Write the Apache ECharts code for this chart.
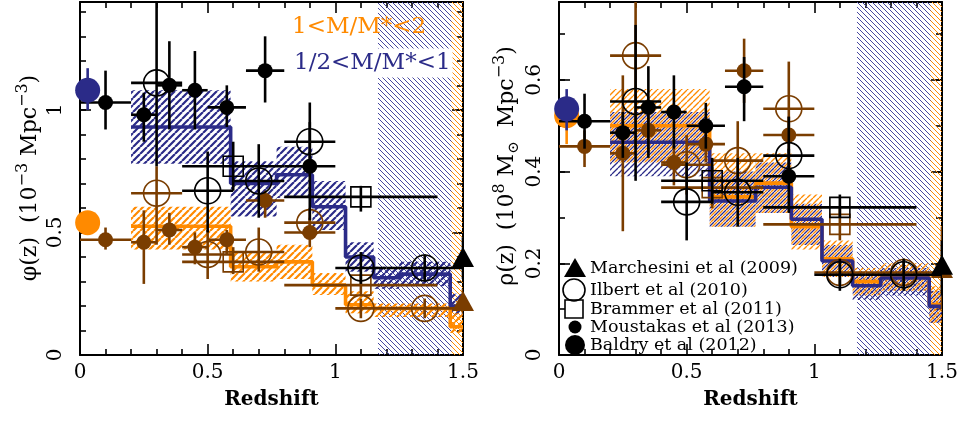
<!DOCTYPE html>
<html><head><meta charset="utf-8">
<script src="https://cdn.jsdelivr.net/npm/echarts@6/dist/echarts.min.js"></script>
<style>html,body{margin:0;padding:0;background:#fff}#c{width:962px;height:425px}</style>
</head><body><div id="c"></div>
<script>
// ---------------- DATA ----------------
// Moustakas et al (2013) bins
const mousZ   = [0.1, 0.25, 0.35, 0.45, 0.575, 0.725, 0.9];
const mousZlo = [0.0, 0.2, 0.3, 0.4, 0.5, 0.65, 0.8];
const mousZhi = [0.2, 0.3, 0.4, 0.5, 0.65, 0.8, 1.0];
// Ilbert et al (2010) bins
const ilbZ   = [0.3, 0.5, 0.7, 0.9, 1.1, 1.35];
const ilbZlo = [0.2, 0.4, 0.6, 0.8, 1.0, 1.2];
const ilbZhi = [0.4, 0.6, 0.8, 1.0, 1.2, 1.5];
// Brammer et al (2011) bins
const braZ   = [0.6, 1.1];
const braZlo = [0.4, 0.8];
const braZhi = [0.8, 1.4];
// Marchesini et al (2009), Baldry et al (2012)
const marZ = [1.5];
const balZ = [0.03];

// ---- phi(z), 1/2<M/M*<1 (black) and 1<M/M*<2 (brown)
const phiMousLow     = [1.03, 0.98, 1.10, 1.08, 1.01, 1.16, 0.77];
const phiMousLowLo   = [0.92, 0.87, 0.92, 0.92, 0.93, 1.03, 0.55];
const phiMousLowHi   = [1.16, 1.07, 1.28, 1.24, 1.10, 1.30, 1.03];
const phiMousHigh    = [0.47, 0.46, 0.51, 0.44, 0.47, 0.63, 0.50];
const phiMousHighLo  = [0.43, 0.29, 0.45, 0.37, 0.41, 0.56, 0.44];
const phiMousHighHi  = [0.52, 0.59, 0.58, 0.50, 0.51, 0.67, 0.56];
const phiIlbLow      = [1.11, 0.67, 0.71, 0.87, 0.355, 0.355];
const phiIlbLowLo    = [0.77, 0.50, 0.56, 0.80, 0.29, 0.30];
const phiIlbLowHi    = [1.60, 0.83, 0.86, 0.95, 0.42, 0.41];
const phiIlbHigh     = [0.66, 0.41, 0.42, 0.54, 0.19, 0.19];
const phiIlbHighLo   = [0.45, 0.31, 0.34, 0.48, 0.15, 0.15];
const phiIlbHighHi   = [0.77, 0.51, 0.52, 0.60, 0.23, 0.23];
const phiBraLow      = [0.77, 0.645];
const phiBraLowLo    = [0.67, 0.585];
const phiBraLowHi    = [0.87, 0.69];
const phiBraHigh     = [0.38, 0.285];
const phiBraHighLo   = [0.33, 0.24];
const phiBraHighHi   = [0.44, 0.33];
const phiMarLow = [0.40], phiMarLowLo = [0.31], phiMarLowHi = [0.48];
const phiMarHigh = [0.22], phiMarHighLo = [0.17], phiMarHighHi = [0.27];
const phiBalLow = [1.08], phiBalLowLo = [1.00], phiBalLowHi = [1.17];
const phiBalHigh = [0.54], phiBalHighLo = [0.51], phiBalHighHi = [0.57];

// ---- rho(z)
const rhoMousLow     = [0.51, 0.485, 0.54, 0.53, 0.50, 0.585, 0.39];
const rhoMousLowLo   = [0.45, 0.43, 0.43, 0.45, 0.45, 0.51, 0.31];
const rhoMousLowHi   = [0.57, 0.53, 0.63, 0.61, 0.55, 0.65, 0.45];
const rhoMousHigh    = [0.455, 0.44, 0.49, 0.42, 0.46, 0.62, 0.48];
const rhoMousHighLo  = [0.41, 0.27, 0.44, 0.37, 0.42, 0.55, 0.44];
const rhoMousHighHi  = [0.49, 0.61, 0.54, 0.47, 0.50, 0.69, 0.52];
const rhoIlbLow      = [0.553, 0.334, 0.355, 0.435, 0.175, 0.175];
const rhoIlbLowLo    = [0.38, 0.25, 0.28, 0.39, 0.14, 0.14];
const rhoIlbLowHi    = [0.72, 0.42, 0.43, 0.52, 0.21, 0.21];
const rhoIlbHigh     = [0.653, 0.415, 0.424, 0.537, 0.18, 0.18];
const rhoIlbHighLo   = [0.45, 0.35, 0.34, 0.48, 0.15, 0.15];
const rhoIlbHighHi   = [0.80, 0.48, 0.51, 0.64, 0.21, 0.21];
const rhoBraLow      = [0.38, 0.322];
const rhoBraLowLo    = [0.33, 0.30];
const rhoBraLowHi    = [0.43, 0.35];
const rhoBraHigh     = [0.365, 0.285];
const rhoBraHighLo   = [0.32, 0.25];
const rhoBraHighHi   = [0.41, 0.32];
const rhoMarLow = [0.197], rhoMarLowLo = [0.13], rhoMarLowHi = [0.25];
const rhoMarHigh = [0.19], rhoMarHighLo = [0.10], rhoMarHighHi = [0.28];
const rhoBalLow = [0.537], rhoBalLowLo = [0.49], rhoBalLowHi = [0.58];
const rhoBalHigh = [0.522], rhoBalHighLo = [0.46], rhoBalHighHi = [0.56];

// ---- model steps and uncertainty bands
const phiEdges      = [0.2, 0.59, 0.77, 0.91, 1.04, 1.15, 1.25, 1.45, 1.5];
const phiStepLow    = [0.93, 0.70, 0.735, 0.605, 0.40, 0.315, 0.33, 0.20];
const phiStepHigh   = [0.525, 0.36, 0.38, 0.285, 0.205, 0.19, 0.19, 0.115];
const phiBandLowLo  = [0.78, 0.565, 0.64, 0.51, 0.34, 0.27, 0.28, 0.16];
const phiBandLowHi  = [1.08, 0.79, 0.85, 0.71, 0.46, 0.36, 0.38, 0.25];
const phiBandHighLo = [0.43, 0.30, 0.31, 0.245, 0.17, 0.155, 0.155, 0.09];
const phiBandHighHi = [0.605, 0.42, 0.45, 0.335, 0.26, 0.21, 0.21, 0.17];

const rhoEdges      = [0.2, 0.59, 0.77, 0.91, 1.03, 1.15, 1.26, 1.45, 1.5];
const rhoStepLow    = [0.464, 0.336, 0.366, 0.296, 0.205, 0.151, 0.168, 0.106];
const rhoStepHigh   = [0.50, 0.345, 0.375, 0.28, 0.21, 0.16, 0.17, 0.11];
const rhoBandLowLo  = [0.39, 0.28, 0.31, 0.24, 0.17, 0.12, 0.13, 0.07];
const rhoBandLowHi  = [0.53, 0.40, 0.42, 0.33, 0.24, 0.18, 0.19, 0.14];
const rhoBandHighLo = [0.42, 0.28, 0.31, 0.23, 0.17, 0.13, 0.14, 0.07];
const rhoBandHighHi = [0.58, 0.44, 0.44, 0.35, 0.25, 0.19, 0.20, 0.15];

// incompleteness regions (redshift ranges)
const incompleteLowZ  = [1.167, 1.5];
const incompleteHighZ = [1.455, 1.5];

// axes
const xTicks = [0, 0.5, 1, 1.5];
const phiMax = 1.44, rhoMax = 0.77;

// ---------------- STYLE ----------------
const NAVY = '#2b2b88', ORANGE = '#ff8a00', BROWN = '#7a3d00', BLACK = '#000000';
const FONT = '"DejaVu Serif", "Liberation Serif", serif';

function hatch(color, size, lw, dir, off) {
  const c = document.createElement('canvas');
  c.width = size; c.height = size;
  const g = c.getContext('2d');
  g.strokeStyle = color; g.lineWidth = lw;
  g.beginPath();
  for (let k = -2; k <= 2; k++) {
    const o = k * size + (off || 0);
    if (dir === '/') { g.moveTo(o, size); g.lineTo(o + size, 0); }
    else { g.moveTo(o, 0); g.lineTo(o + size, size); }
  }
  g.stroke();
  return { image: c, repeat: 'repeat' };
}

const series = [];
function ax(g) { return { xAxisIndex: g * 2, yAxisIndex: g * 4 }; }

function rectSeries(g, x0s, x1s, y0s, y1s, fill, z) {
  return Object.assign({
    type: 'custom', z, silent: true, clip: true,
    encode: { x: 0, y: 2 },
    data: x0s.map((x, i) => [x, x1s[i], y0s[i], y1s[i]]),
    renderItem: (p, api) => {
      const a = api.coord([api.value(0), api.value(3)]);
      const b = api.coord([api.value(1), api.value(2)]);
      return { type: 'rect', shape: { x: a[0], y: a[1], width: b[0] - a[0], height: b[1] - a[1] }, style: { fill: fill } };
    }
  }, ax(g));
}
function stepSeries(g, edges, vals, color, z) {
  const data = vals.map((v, i) => [edges[i], v]);
  data.push([edges[edges.length - 1], vals[vals.length - 1]]);
  return Object.assign({
    type: 'line', step: 'end', symbol: 'none', z, silent: true, clip: true,
    data, lineStyle: { color, width: 3.6, cap: 'butt' }
  }, ax(g));
}
function errSeries(g, xs, xlo, xhi, ys, ylo, yhi, color, z) {
  return Object.assign({
    type: 'custom', z, silent: true, clip: true, encode: { x: 0, y: 1 },
    data: xs.map((x, i) => [x, ys[i], xlo[i], xhi[i], ylo[i], yhi[i]]),
    renderItem: (p, api) => {
      const x = api.value(0), y = api.value(1);
      const a = api.coord([api.value(2), y]), b = api.coord([api.value(3), y]);
      const c = api.coord([x, api.value(4)]), d = api.coord([x, api.value(5)]);
      return { type: 'group', children: [
        { type: 'line', shape: { x1: a[0], y1: a[1], x2: b[0], y2: b[1] }, style: { stroke: color, lineWidth: 2.6 } },
        { type: 'line', shape: { x1: c[0], y1: c[1], x2: d[0], y2: d[1] }, style: { stroke: color, lineWidth: 2.6 } }
      ] };
    }
  }, ax(g));
}
function symSeries(g, xs, ys, symbol, size, fill, stroke, bw, z) {
  return Object.assign({
    type: 'scatter', z, silent: true, symbol, symbolSize: size,
    data: xs.map((x, i) => [x, ys[i]]),
    itemStyle: { color: fill, borderColor: stroke, borderWidth: bw, opacity: 1 }
  }, ax(g));
}
function pts(g, xs, xlo, xhi, ys, ylo, yhi, color, symbol, size, hollow, z) {
  series.push(errSeries(g, xs, xlo, xhi, ys, ylo, yhi, color, z));
  series.push(symSeries(g, xs, ys, symbol, size, hollow ? 'rgba(0,0,0,0)' : color, color, hollow ? 1.6 : 0, z + 1));
}

function panel(g, D, bandSize, bandLw) {
  const max = g === 0 ? phiMax : rhoMax;
  series.push(rectSeries(g, [incompleteLowZ[0]], [incompleteLowZ[1]], [0], [max], hatch('#4848a0', 5, 1, '\\', 0), 1));
  series.push(rectSeries(g, [incompleteHighZ[0]], [incompleteHighZ[1]], [0], [max], hatch(ORANGE, 5, 1, '\\', 0), 1));
  const lo = D.edges.slice(0, -1), hi = D.edges.slice(1);
  series.push(rectSeries(g, lo, hi, D.bandLowLo, D.bandLowHi, hatch(NAVY, bandSize, bandLw, '/', 0), 2));
  series.push(rectSeries(g, lo, hi, D.bandHighLo, D.bandHighHi, hatch(ORANGE, bandSize, bandLw, '/', g === 1 ? bandSize / 2 : 0), 2));
  series.push(stepSeries(g, D.edges, D.stepHigh, ORANGE, 3));
  series.push(stepSeries(g, D.edges, D.stepLow, NAVY, 3));
  pts(g, marZ, marZ, marZ, D.marHigh, D.marHighLo, D.marHighHi, BROWN, 'triangle', [22, 20], false, 4);
  pts(g, braZ, braZlo, braZhi, D.braHigh, D.braHighLo, D.braHighHi, BROWN, 'rect', 20, true, 4);
  pts(g, ilbZ, ilbZlo, ilbZhi, D.ilbHigh, D.ilbHighLo, D.ilbHighHi, BROWN, 'circle', 26, true, 4);
  pts(g, mousZ, mousZlo, mousZhi, D.mousHigh, D.mousHighLo, D.mousHighHi, BROWN, 'circle', 15, false, 4);
  pts(g, balZ, balZ, balZ, D.balHigh, D.balHighLo, D.balHighHi, ORANGE, 'circle', 25, false, 4);
  pts(g, marZ, marZ, marZ, D.marLow, D.marLowLo, D.marLowHi, BLACK, 'triangle', [22, 20], false, 6);
  pts(g, braZ, braZlo, braZhi, D.braLow, D.braLowLo, D.braLowHi, BLACK, 'rect', 20, true, 6);
  pts(g, ilbZ, ilbZlo, ilbZhi, D.ilbLow, D.ilbLowLo, D.ilbLowHi, BLACK, 'circle', 26, true, 6);
  pts(g, mousZ, mousZlo, mousZhi, D.mousLow, D.mousLowLo, D.mousLowHi, BLACK, 'circle', 15, false, 6);
  pts(g, balZ, balZ, balZ, D.balLow, D.balLowLo, D.balLowHi, NAVY, 'circle', 25, false, 6);
}

panel(0, {
  edges: phiEdges, stepLow: phiStepLow, stepHigh: phiStepHigh,
  bandLowLo: phiBandLowLo, bandLowHi: phiBandLowHi, bandHighLo: phiBandHighLo, bandHighHi: phiBandHighHi,
  mousLow: phiMousLow, mousLowLo: phiMousLowLo, mousLowHi: phiMousLowHi,
  mousHigh: phiMousHigh, mousHighLo: phiMousHighLo, mousHighHi: phiMousHighHi,
  ilbLow: phiIlbLow, ilbLowLo: phiIlbLowLo, ilbLowHi: phiIlbLowHi,
  ilbHigh: phiIlbHigh, ilbHighLo: phiIlbHighLo, ilbHighHi: phiIlbHighHi,
  braLow: phiBraLow, braLowLo: phiBraLowLo, braLowHi: phiBraLowHi,
  braHigh: phiBraHigh, braHighLo: phiBraHighLo, braHighHi: phiBraHighHi,
  marLow: phiMarLow, marLowLo: phiMarLowLo, marLowHi: phiMarLowHi,
  marHigh: phiMarHigh, marHighLo: phiMarHighLo, marHighHi: phiMarHighHi,
  balLow: phiBalLow, balLowLo: phiBalLowLo, balLowHi: phiBalLowHi,
  balHigh: phiBalHigh, balHighLo: phiBalHighLo, balHighHi: phiBalHighHi
}, 7, 2.2);
panel(1, {
  edges: rhoEdges, stepLow: rhoStepLow, stepHigh: rhoStepHigh,
  bandLowLo: rhoBandLowLo, bandLowHi: rhoBandLowHi, bandHighLo: rhoBandHighLo, bandHighHi: rhoBandHighHi,
  mousLow: rhoMousLow, mousLowLo: rhoMousLowLo, mousLowHi: rhoMousLowHi,
  mousHigh: rhoMousHigh, mousHighLo: rhoMousHighLo, mousHighHi: rhoMousHighHi,
  ilbLow: rhoIlbLow, ilbLowLo: rhoIlbLowLo, ilbLowHi: rhoIlbLowHi,
  ilbHigh: rhoIlbHigh, ilbHighLo: rhoIlbHighLo, ilbHighHi: rhoIlbHighHi,
  braLow: rhoBraLow, braLowLo: rhoBraLowLo, braLowHi: rhoBraLowHi,
  braHigh: rhoBraHigh, braHighLo: rhoBraHighLo, braHighHi: rhoBraHighHi,
  marLow: rhoMarLow, marLowLo: rhoMarLowLo, marLowHi: rhoMarLowHi,
  marHigh: rhoMarHigh, marHighLo: rhoMarHighLo, marHighHi: rhoMarHighHi,
  balLow: rhoBalLow, balLowLo: rhoBalLowLo, balLowHi: rhoBalLowHi,
  balHigh: rhoBalHigh, balHighLo: rhoBalHighLo, balHighHi: rhoBalHighHi
}, 6, 1.3);

// ---------------- AXES ----------------
function fmt(v) { return String(Math.round(v * 100) / 100); }
function isMult(v, s) { return Math.abs(v / s - Math.round(v / s)) < 1e-6; }
const lineS = { color: '#000', width: 2 };
const tickS = { color: '#000', width: 1.6 };
const xAxis = [], yAxis = [];
[0, 1].forEach(g => {
  const base = {
    type: 'value', gridIndex: g, min: xTicks[0], max: xTicks[xTicks.length - 1], interval: xTicks[1] - xTicks[0],
    splitLine: { show: false }, minorSplitLine: { show: false },
    axisLine: { show: true, onZero: false, lineStyle: lineS },
    axisTick: { show: true, inside: true, length: 11, lineStyle: tickS },
    minorTick: { show: true, splitNumber: 5, length: 6, lineStyle: tickS }
  };
  xAxis.push(Object.assign({}, base, { position: 'bottom',
    axisLabel: { show: true, margin: 8, color: '#000', fontFamily: FONT, fontSize: 20, formatter: v => fmt(v) } }));
  xAxis.push(Object.assign({}, base, { position: 'top', axisLabel: { show: false } }));
  const max = g === 0 ? phiMax : rhoMax, major = g === 0 ? 0.5 : 0.2;
  const yc = { type: 'value', gridIndex: g, min: 0, max, splitLine: { show: false } };
  const lab = { show: true, rotate: 90, margin: 14, color: '#000', fontFamily: FONT, fontSize: 20,
    showMaxLabel: false, formatter: v => isMult(v, major) ? fmt(v) : '' };
  yAxis.push(Object.assign({}, yc, { position: 'left', interval: major, axisLine: { show: true, onZero: false, lineStyle: lineS },
    axisTick: { show: true, inside: true, length: 11, lineStyle: tickS }, axisLabel: lab }));
  yAxis.push(Object.assign({}, yc, { position: 'left', interval: 0.1, axisLine: { show: false, onZero: false },
    axisTick: { show: true, inside: true, length: 6, lineStyle: tickS }, axisLabel: { show: false } }));
  yAxis.push(Object.assign({}, yc, { position: 'right', interval: major, axisLine: { show: true, onZero: false, lineStyle: lineS },
    axisTick: { show: true, inside: true, length: 11, lineStyle: tickS }, axisLabel: { show: false } }));
  yAxis.push(Object.assign({}, yc, { position: 'right', interval: 0.1, axisLine: { show: false, onZero: false },
    axisTick: { show: true, inside: true, length: 6, lineStyle: tickS }, axisLabel: { show: false } }));
});

// ---------------- TEXT / LEGEND ----------------
function txt(x, y, text, size, color, opts) {
  return Object.assign({ type: 'text', x, y, z: 100,
    style: Object.assign({ text, fill: color, font: size + 'px ' + FONT, align: 'left', verticalAlign: 'middle' }, (opts && opts.style) || {}) },
    opts && opts.rot ? { rotation: opts.rot } : {});
}
const richTitle = {
  a: { fontSize: 22, fontFamily: FONT, fill: '#000', lineHeight: 30 },
  s: { fontSize: 16, fontFamily: FONT, fill: '#000', verticalAlign: 'top' },
  b: { fontSize: 15, fontFamily: FONT, fill: '#000', verticalAlign: 'bottom' }
};
function titleY(x, y, text) {
  return { type: 'text', x, y, z: 100, rotation: Math.PI / 2,
    style: { text, rich: richTitle, align: 'center', verticalAlign: 'middle', fill: '#000' } };
}
const legendNames = ['Marchesini et al (2009)', 'Ilbert et al (2010)', 'Brammer et al (2011)', 'Moustakas et al (2013)', 'Baldry et al (2012)'];
const legY = [268, 290, 309, 327, 345];
const graphic = [
  txt(292, 27, '1<M/M*<2', 23, ORANGE),
  txt(292, 63, '1/2<M/M*<1', 23, NAVY, { style: { backgroundColor: '#fff', padding: [3, 2, 3, 2] } }),
  titleY(30, 178, '{a|φ(z)  (10}{s|−3}{a| Mpc}{s|−3}{a|)}'),
  titleY(507, 166, '{a|ρ(z)  (10}{s|8}{a| M}{b|⊙}{a|  Mpc}{s|−3}{a|)}'),
  { type: 'text', x: 271.5, y: 400, z: 100, style: { text: 'Redshift', fill: '#000', font: 'bold 20px ' + FONT, align: 'center', verticalAlign: 'middle' } },
  { type: 'text', x: 750.5, y: 400, z: 100, style: { text: 'Redshift', fill: '#000', font: 'bold 20px ' + FONT, align: 'center', verticalAlign: 'middle' } },
  { type: 'polygon', z: 100, shape: { points: [[575, legY[0] - 10], [564, legY[0] + 9], [586, legY[0] + 9]] }, style: { fill: '#000' } },
  { type: 'circle', z: 100, shape: { cx: 574, cy: legY[1], r: 11 }, style: { fill: 'rgba(0,0,0,0)', stroke: '#000', lineWidth: 1.6 } },
  { type: 'rect', z: 100, shape: { x: 565, y: legY[2] - 9, width: 18, height: 18 }, style: { fill: 'rgba(0,0,0,0)', stroke: '#000', lineWidth: 1.6 } },
  { type: 'circle', z: 100, shape: { cx: 575, cy: legY[3], r: 6.5 }, style: { fill: '#000' } },
  { type: 'circle', z: 100, shape: { cx: 575, cy: legY[4], r: 10 }, style: { fill: '#000' } }
];
legendNames.forEach((n, i) => graphic.push(txt(590, legY[i], n, 17.5, '#000')));

const chart = echarts.init(document.getElementById('c'), null, { renderer: 'canvas' });
chart.setOption({
  animation: false,
  backgroundColor: '#fff',
  grid: [
    { left: 80, top: 2, width: 383, height: 353 },
    { left: 559, top: 2, width: 383, height: 353 }
  ],
  xAxis, yAxis, series, graphic
});
</script></body></html>
